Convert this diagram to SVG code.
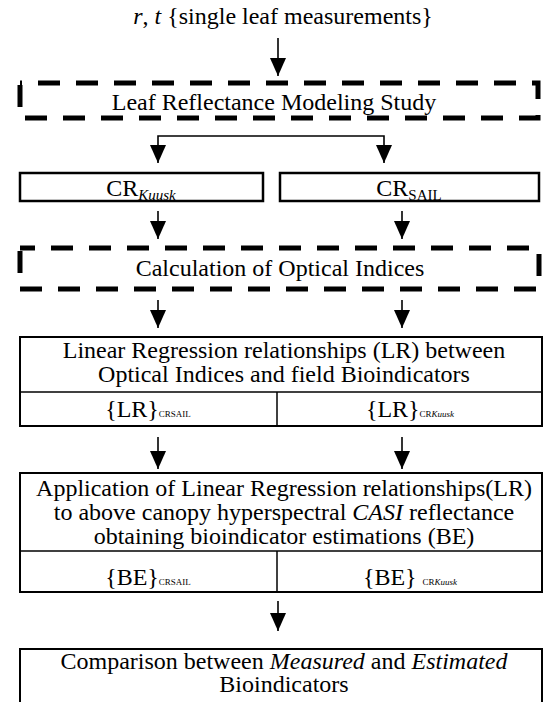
<svg xmlns="http://www.w3.org/2000/svg" width="544" height="702" viewBox="0 0 544 702">
<style>
text{font-family:"Liberation Serif","Times New Roman",serif;fill:#000;}
.t{font-size:24px;text-anchor:middle;}
.dash{fill:none;stroke:#000;stroke-width:5;stroke-dasharray:22 16;}
.box{fill:#fff;stroke:#000;stroke-width:2;}
.cr{fill:#fff;stroke:#000;stroke-width:2.5;}
.ln{fill:none;stroke:#000;stroke-width:1.5;}
.con{fill:none;stroke:#000;stroke-width:1.6;marker-end:url(#ah);}
.sub{font-size:9px;}
.sub2{font-size:15px;}
</style>
<defs>
<marker id="ah" viewBox="0 0 18 16" refX="18" refY="8" markerWidth="18" markerHeight="16" markerUnits="userSpaceOnUse" orient="auto">
<path d="M0,0 L18,8 L0,16 z" fill="#000"/>
</marker>
</defs>

<g id="input">
<text class="t" x="283" y="24"><tspan font-style="italic">r</tspan>, <tspan font-style="italic">t</tspan> {single leaf measurements}</text>
</g>

<g id="leaf-study">
<rect class="dash" x="20" y="83" width="518" height="35" stroke-dashoffset="20"/>
<text class="t" x="274" y="110">Leaf Reflectance Modeling Study</text>
</g>

<g id="cr-kuusk">
<rect class="cr" x="20" y="173" width="243" height="28"/>
<text class="t" x="141" y="196">CR<tspan class="sub2" font-style="italic" dy="4">Kuusk</tspan></text>
</g>

<g id="cr-sail">
<rect class="cr" x="280" y="173" width="259" height="28"/>
<text class="t" x="409" y="196">CR<tspan class="sub2" dy="4">SAIL</tspan></text>
</g>

<g id="optical-indices">
<rect class="dash" x="20" y="248" width="519" height="41" stroke-dashoffset="7"/>
<text class="t" x="280" y="276">Calculation of Optical Indices</text>
</g>

<g id="lr">
<rect class="box" x="20" y="337" width="522" height="89"/>
<line class="ln" x1="20" y1="392" x2="542" y2="392"/>
<line class="ln" x1="277" y1="392" x2="277" y2="426"/>
<text class="t" x="284" y="358">Linear Regression relationships (LR) between</text>
<text class="t" x="284" y="382">Optical Indices and field Bioindicators</text>
<text class="t" x="148" y="417">{LR}<tspan class="sub">CRSAIL</tspan></text>
<text class="t" x="410" y="417">{LR}<tspan class="sub">CR<tspan font-style="italic">Kuusk</tspan></tspan></text>
</g>

<g id="be">
<rect class="box" x="20" y="473" width="522" height="119"/>
<line class="ln" x1="20" y1="551" x2="542" y2="551"/>
<line class="ln" x1="277" y1="551" x2="277" y2="592"/>
<text class="t" x="284" y="496">Application of Linear Regression relationships(LR)</text>
<text class="t" x="284" y="520">to above canopy hyperspectral <tspan font-style="italic">CASI</tspan> reflectance</text>
<text class="t" x="284" y="544">obtaining bioindicator estimations (BE)</text>
<text class="t" x="148" y="585">{BE}<tspan class="sub">CRSAIL</tspan></text>
<text class="t" x="410" y="585">{BE} <tspan class="sub">CR<tspan font-style="italic">Kuusk</tspan></tspan></text>
</g>

<g id="comparison">
<rect class="box" x="20" y="649" width="522" height="70"/>
<text class="t" x="284" y="669">Comparison between <tspan font-style="italic">Measured</tspan> and <tspan font-style="italic">Estimated</tspan></text>
<text class="t" x="284" y="692">Bioindicators</text>
</g>

<g id="connectors">
<path class="con" d="M278,38 V76"/>
<path class="con" d="M271,136 H158 V163"/>
<path class="con" d="M271,136 H384 V163"/>
<path class="con" d="M158,211 V239"/>
<path class="con" d="M402,211 V239"/>
<path class="con" d="M158,300 V328"/>
<path class="con" d="M402,300 V328"/>
<path class="con" d="M158,437 V469"/>
<path class="con" d="M402,437 V469"/>
<path class="con" d="M278,601 V631"/>
</g>
</svg>
